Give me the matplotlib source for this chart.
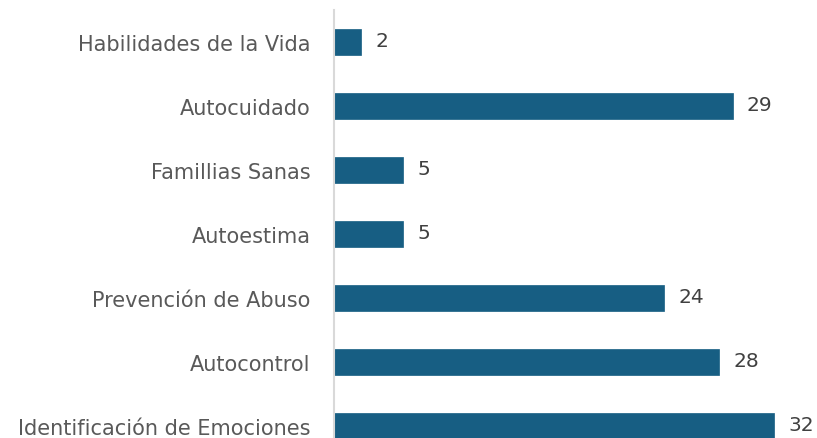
import matplotlib.pyplot as plt

categorias = ['Habilidades de la Vida', 'Autocuidado', 'Famillias Sanas', 'Autoestima',
              'Prevención de Abuso', 'Autocontrol', 'Identificación de Emociones']
valores = [2, 29, 5, 5, 24, 28, 32]

W, H = 817, 439
fig = plt.figure(figsize=(W / 100, H / 100), dpi=100)
# ejes en pixeles: x0=334, arriba=11, 64 px por categoria (la ultima barra queda cortada)
ax = fig.add_axes([334 / W, (H - 11 - 448) / H, 481 / W, 448 / H])

pos = list(range(len(categorias)))
ax.barh(pos, valores, height=0.41, color='#175e83', edgecolor='#175e83', linewidth=0.5)
for p, v in zip(pos, valores):
    ax.text(v + 1.05, p - 0.02, str(v), va='center', ha='left', fontsize=14.5,
            color='#404040', family='DejaVu Sans')

ax.set_ylim(6.5, -0.5)
ax.set_xlim(0, 35)
ax.set_yticks(pos)
ax.set_yticklabels(categorias, fontsize=15, color='#595959', family='DejaVu Sans')
ax.tick_params(axis='y', length=0, pad=17)
ax.set_xticks([])
for s in ['top', 'right', 'bottom']:
    ax.spines[s].set_visible(False)
ax.spines['left'].set_color('#d9d9d9')
ax.spines['left'].set_linewidth(1.5)

fig.savefig('out.png', dpi=100)
